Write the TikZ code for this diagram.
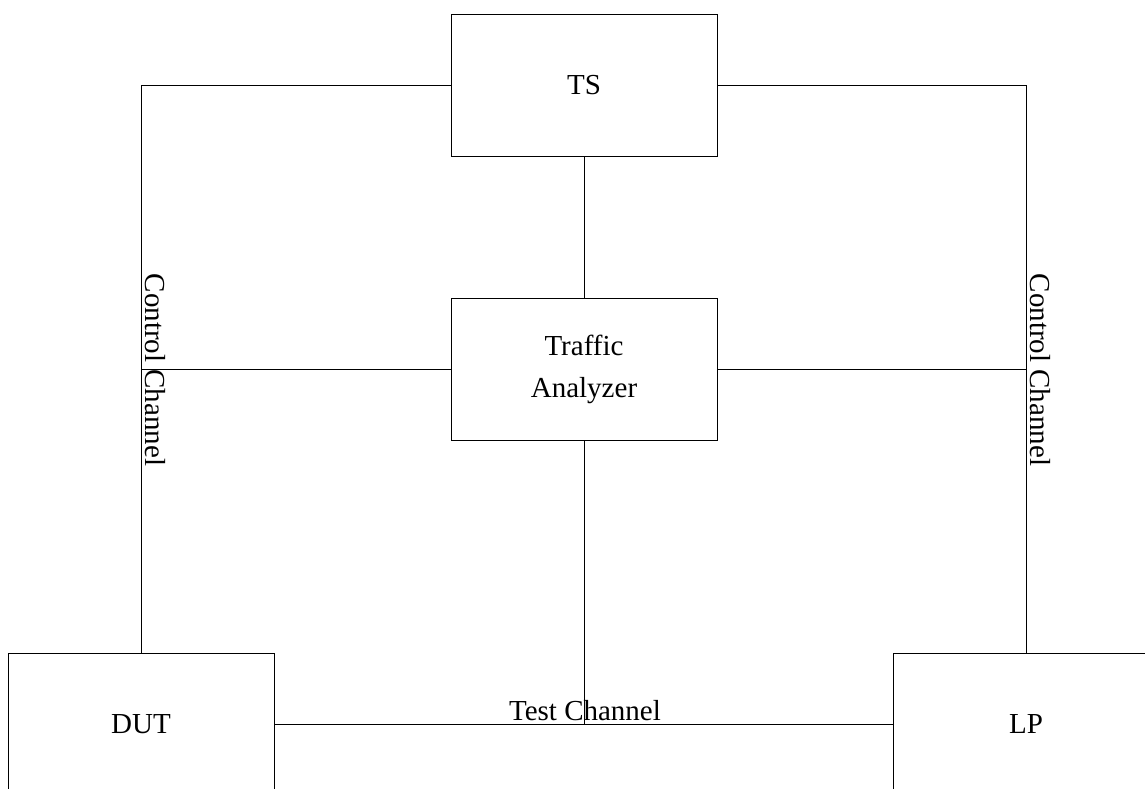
\documentclass[tikz,border=0pt]{standalone}
\usepackage{fontspec}
\setmainfont{Liberation Serif}
\begin{document}
\begin{tikzpicture}[x=1pt,y=-1pt,
  box/.style={draw, line width=1pt, minimum width=266pt, minimum height=142pt, inner sep=0pt, font=\fontsize{29}{34}\selectfont, align=center},
  conn/.style={line width=1pt},
  lbl/.style={font=\fontsize{29}{34}\selectfont, inner sep=2pt}]
\useasboundingbox (0,0) rectangle (1145,788);
\clip (0,0) rectangle (1145,788);
\fill[white] (0,0) rectangle (1145,788);
\node[box] (ts) at (584,85) {TS};
\node[box] (ta) at (584,369) {Traffic\\[8pt]Analyzer};
\node[box] (dut) at (141,724) {DUT};
\node[box] (lp) at (1026,724) {LP};
\coordinate (tl) at (141,85);
\coordinate (tr) at (1026,85);
\coordinate (ml) at (141,369);
\coordinate (mr) at (1026,369);
\coordinate (bm) at (584,724);
\draw[conn] (ts.west) -- (tl) -- (dut.north);
\draw[conn] (ts.east) -- (tr) -- (lp.north);
\draw[conn] (ml) -- (ml -| ta.west);
\draw[conn] (mr) -- (mr -| ta.east);
\draw[conn] (ts.south) -- (ta.north);
\draw[conn] (ta.south) -- (bm);
\draw[conn] (dut.east) -- (lp.west);
\node[lbl, rotate=-90, anchor=south] (ccl) at (143,370) {Control Channel};
\node[lbl, rotate=-90, anchor=south] (ccr) at (1028,370) {Control Channel};
\node[lbl, anchor=south] (tc) at (585,723) {Test Channel};
\end{tikzpicture}
\end{document}
